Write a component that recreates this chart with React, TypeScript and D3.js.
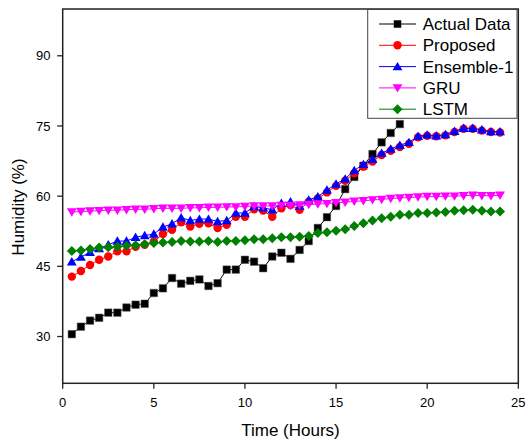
import React from 'react';
import * as d3 from 'd3';

const hours = [0.5, 1, 1.5, 2, 2.5, 3, 3.5, 4, 4.5, 5, 5.5, 6, 6.5, 7, 7.5, 8, 8.5, 9, 9.5, 10, 10.5, 11, 11.5, 12, 12.5, 13, 13.5, 14, 14.5, 15, 15.5, 16, 16.5, 17, 17.5, 18, 18.5, 19, 19.5, 20, 20.5, 21, 21.5, 22, 22.5, 23, 23.5, 24];

const actualData = [30.5, 32.1, 33.4, 34.0, 35.1, 35.1, 36.2, 36.8, 37.0, 39.3, 40.3, 42.5, 41.3, 41.9, 42.2, 40.8, 41.4, 44.3, 44.3, 46.4, 46.0, 44.6, 47.1, 47.9, 46.6, 48.5, 50.4, 53.2, 55.5, 57.9, 61.5, 64.1, 66.5, 69.0, 71.5, 73.5, 75.4];

const proposed = [42.8, 44.0, 45.3, 46.4, 47.1, 48.2, 48.2, 49.2, 49.6, 50.3, 51.9, 52.8, 54.4, 53.5, 54.1, 54.2, 53.2, 53.9, 55.6, 55.6, 57.2, 56.9, 55.6, 57.4, 58.1, 57.1, 58.8, 59.5, 60.8, 62.2, 63.3, 64.9, 66.3, 67.4, 68.8, 69.7, 70.5, 71.2, 72.6, 72.9, 72.8, 73.0, 73.7, 74.4, 74.4, 74.0, 73.7, 73.6];

const ensemble1 = [46.0, 47.0, 48.0, 48.8, 49.6, 50.4, 50.4, 51.2, 51.6, 51.9, 53.4, 54.1, 55.4, 54.8, 55.1, 55.1, 54.6, 54.8, 56.4, 56.4, 57.8, 57.5, 57.1, 58.5, 58.8, 57.9, 59.2, 59.9, 61.3, 62.6, 63.7, 65.5, 66.8, 67.9, 69.2, 70.1, 70.9, 71.5, 72.8, 73.1, 72.9, 73.2, 73.9, 74.5, 74.5, 74.2, 73.8, 73.8];

const gru = [56.6, 56.7, 56.8, 56.9, 57.0, 57.0, 57.1, 57.2, 57.2, 57.3, 57.4, 57.4, 57.4, 57.5, 57.5, 57.6, 57.6, 57.7, 57.7, 57.8, 57.9, 57.9, 57.9, 58.0, 58.0, 58.1, 58.2, 58.3, 58.4, 58.6, 58.7, 58.9, 59.0, 59.2, 59.3, 59.5, 59.6, 59.7, 59.8, 59.9, 59.9, 60.0, 60.0, 60.1, 60.2, 60.1, 60.1, 60.2];

const lstm = [48.3, 48.4, 48.7, 49.0, 49.1, 49.2, 49.4, 49.5, 49.7, 50.0, 50.1, 50.2, 50.4, 50.3, 50.3, 50.4, 50.2, 50.4, 50.4, 50.6, 50.8, 50.8, 51.0, 51.2, 51.2, 51.3, 51.5, 52.1, 52.3, 52.6, 52.9, 53.6, 54.2, 54.8, 55.3, 55.6, 56.0, 56.0, 56.4, 56.4, 56.5, 56.6, 56.9, 57.0, 57.1, 56.9, 56.7, 56.7];

const xTicks = [0, 5, 10, 15, 20, 25];
const yTicks = [30, 45, 60, 75, 90];
const seriesNames = ['Actual Data', 'Proposed', 'Ensemble-1', 'GRU', 'LSTM'];
const seriesColors = ['#000000', '#ff0000', '#0000ff', '#ff00ff', '#008000'];
const seriesValues = [actualData, proposed, ensemble1, gru, lstm];

const FONT = 'Arial, "Liberation Sans", sans-serif';

// custom marker shapes
const squareSym = {
  draw(ctx: any, size: number) {
    const h = Math.sqrt(size) / 2;
    ctx.rect(-h, -h, 2 * h, 2 * h);
  },
};
const triUp = {
  draw(ctx: any, size: number) {
    const w = Math.sqrt(size) / 2;
    ctx.moveTo(0, -w);
    ctx.lineTo(w * 1.05, w * 0.8);
    ctx.lineTo(-w * 1.05, w * 0.8);
    ctx.closePath();
  },
};
const triDown = {
  draw(ctx: any, size: number) {
    const w = Math.sqrt(size) / 2;
    ctx.moveTo(0, w);
    ctx.lineTo(w * 1.05, -w * 0.8);
    ctx.lineTo(-w * 1.05, -w * 0.8);
    ctx.closePath();
  },
};
const diamondSym = {
  draw(ctx: any, size: number) {
    const w = Math.sqrt(size) / 2;
    ctx.moveTo(0, -w);
    ctx.lineTo(w, 0);
    ctx.lineTo(0, w);
    ctx.lineTo(-w, 0);
    ctx.closePath();
  },
};
const circleSym = {
  draw(ctx: any, size: number) {
    const r = Math.sqrt(size) / 2;
    ctx.moveTo(r, 0);
    ctx.arc(0, 0, r, 0, Math.PI * 2);
  },
};

const symbolTypes = [squareSym, circleSym, triUp, triDown, diamondSym];
const symbolSizes = [7.5 * 7.5, 8.4 * 8.4, 9.4 * 9.4, 9.4 * 9.4, 10 * 10];

export default function App() {
  const W = 526;
  const H = 443;
  const left = 62.7;
  const right = 518.3;
  const top = 9;
  const bottom = 383.3;

  const x = d3.scaleLinear().domain([0, 25]).range([left, right]);
  const y = d3.scaleLinear().domain([20, 100]).range([bottom, top]);

  const line = d3
    .line<[number, number]>()
    .x((d) => x(d[0]))
    .y((d) => y(d[1]));

  const symbols = symbolTypes.map((t, i) => d3.symbol().type(t as any).size(symbolSizes[i])());

  // legend layout
  const legX0 = 367.7;
  const legY0 = 9.5;
  const legW = 149.3;
  const legH = 108.8;
  const rowY = (i: number) => 24 + i * 21.3;

  return (
    <svg
      width={W}
      height={H}
      style={{ position: 'absolute', left: 0, top: 0, background: '#fff' }}
      fontFamily={FONT}
    >
      <rect x={0} y={0} width={W} height={H} fill="#fff" />

      {/* series */}
      {seriesValues.map((vals, si) => {
        const pts: [number, number][] = vals.map((v, i) => [hours[i], v]);
        return (
          <g key={si}>
            <path d={line(pts) || ''} fill="none" stroke={seriesColors[si]} strokeWidth={1} />
            {pts.map((p, i) => (
              <path
                key={i}
                d={symbols[si] || ''}
                transform={`translate(${x(p[0])},${y(p[1])})`}
                fill={seriesColors[si]}
                stroke={si === 0 ? '#555' : 'none'}
                strokeWidth={0.5}
              />
            ))}
          </g>
        );
      })}

      {/* frame */}
      <rect
        x={left}
        y={top}
        width={right - left}
        height={bottom - top}
        fill="none"
        stroke="#222"
        strokeWidth={1.5}
      />

      {/* x ticks */}
      {xTicks.map((t) => (
        <g key={t} transform={`translate(${x(t)},0)`}>
          <line y1={bottom} y2={bottom + 5.5} stroke="#222" strokeWidth={1.3} />
          <text y={bottom + 23.5} textAnchor="middle" fontSize={13} fill="#000">
            {t}
          </text>
        </g>
      ))}

      {/* y ticks */}
      {yTicks.map((t) => (
        <g key={t} transform={`translate(0,${y(t)})`}>
          <line x1={left - 5.5} x2={left} stroke="#222" strokeWidth={1.3} />
          <text x={50.5} y={4.6} textAnchor="end" fontSize={13} fill="#000">
            {t}
          </text>
        </g>
      ))}

      {/* axis titles */}
      <text x={(left + right) / 2} y={436} textAnchor="middle" fontSize={17} fill="#000">
        Time (Hours)
      </text>
      <text
        transform={`translate(24,${207}) rotate(-90)`}
        textAnchor="middle"
        fontSize={17}
        fill="#000"
      >
        Humidity (%)
      </text>

      {/* legend */}
      <rect x={legX0} y={legY0} width={legW} height={legH} fill="#fff" stroke="#444" strokeWidth={1} />
      {seriesNames.map((name, i) => (
        <g key={name} transform={`translate(0,${rowY(i)})`}>
          <line x1={379} x2={416} stroke={seriesColors[i]} strokeWidth={1} />
          <path
            d={symbols[i] || ''}
            transform={`translate(397.5,0)`}
            fill={seriesColors[i]}
          />
          <text x={422.7} y={6} fontSize={17} fill="#000">
            {name}
          </text>
        </g>
      ))}
    </svg>
  );
}
